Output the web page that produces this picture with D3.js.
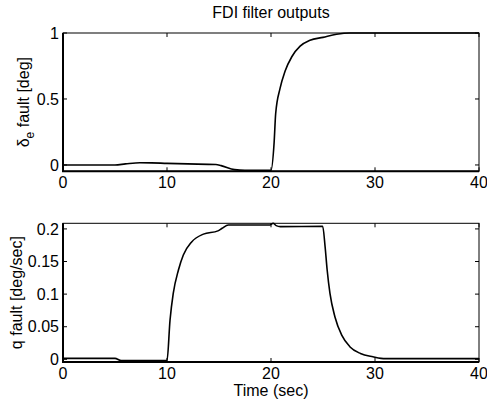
<!DOCTYPE html>
<html>
<head>
<meta charset="utf-8">
<script src="https://cdn.jsdelivr.net/npm/d3@7"></script>
<style>
  body { margin: 0; background: #fff; }
  text { font-family: "Liberation Sans", Arial, sans-serif; fill: #000; }
</style>
</head>
<body>
<svg id="chart"></svg>
<script>
// time samples and values
var elevTime = [0, 5, 6, 7.4, 8.5, 10, 12, 14.7, 15.2, 16.5, 17.5, 19.9, 20.0, 20.3, 20.45, 20.87, 21.35, 22.0, 22.8, 23.75, 25.0, 26.3, 27.6, 40];
var elevFault = [0, 0, 0.008, 0.017, 0.016, 0.012, 0.008, 0.003, -0.005, -0.035, -0.04, -0.04, -0.04, 0.17, 0.39, 0.58, 0.71, 0.82, 0.9, 0.945, 0.967, 0.99, 1.0, 1.0];

var qTime = [0, 5, 5.6, 10, 10.29, 10.6, 11.1, 11.57, 12.37, 13.5, 14.9, 15.3, 15.9, 19.9, 20.2, 20.5, 20.9, 24.97, 25.2, 25.4, 25.67, 26.15, 26.8, 27.6, 28.6, 29.8, 31, 40];
var qFault = [0.0015, 0.0015, -0.002, -0.002, 0.06, 0.101, 0.137, 0.16, 0.18, 0.192, 0.197, 0.201, 0.206, 0.206, 0.2086, 0.205, 0.2035, 0.204, 0.173, 0.137, 0.101, 0.065, 0.037, 0.019, 0.009, 0.004, 0.001, 0.001];

var xTicks = [0, 10, 20, 30, 40];
var elevTicks = [0, 0.5, 1];
var qTicks = [0, 0.05, 0.1, 0.15, 0.2];

function init() {
    var W = 487, H = 404;
    var fs = 16;
    var svg = d3.select("#chart").attr("width", W).attr("height", H);

    //one panel: box with inward ticks on all sides
    function panel(top, bottom, xs, ys, yDomain, yTicks, label, useDelta) {
        var left = 63, right = 479;
        var x = d3.scaleLinear().domain([0, 40]).range([left, right]);
        var y = d3.scaleLinear().domain(yDomain).range([bottom, top]);
        var g = svg.append("g");

        // inward ticks
        var tl = 4;
        xTicks.forEach(function(t) {
            g.append("line").attr("x1", x(t)).attr("x2", x(t)).attr("y1", bottom).attr("y2", bottom - tl).attr("stroke", "#000");
            g.append("line").attr("x1", x(t)).attr("x2", x(t)).attr("y1", top).attr("y2", top + tl).attr("stroke", "#000");
            g.append("text").attr("x", x(t)).attr("y", bottom + 17)
                .attr("text-anchor", "middle").attr("font-size", fs).text(t);
        });
        yTicks.forEach(function(t) {
            g.append("line").attr("x1", left).attr("x2", left + tl).attr("y1", y(t)).attr("y2", y(t)).attr("stroke", "#000");
            g.append("line").attr("x1", right).attr("x2", right - tl).attr("y1", y(t)).attr("y2", y(t)).attr("stroke", "#000");
            g.append("text").attr("x", left - 4).attr("y", y(t)).attr("dy", "0.35em")
                .attr("text-anchor", "end").attr("font-size", fs).text(t);
        });

        // the series
        var pts = xs.map(function(t, i) { return [t, ys[i]]; });
        var line = d3.line()
            .x(function(d) { return x(d[0]); })
            .y(function(d) { return y(d[1]); })
            .curve(d3.curveMonotoneX);
        g.append("path").datum(pts).attr("d", line)
            .attr("fill", "none").attr("stroke", "#000").attr("stroke-width", 1.6);

        // box
        g.append("rect").attr("x", left).attr("y", top).attr("width", right - left).attr("height", bottom - top)
            .attr("fill", "none").attr("stroke", "#000").attr("stroke-width", 1);
        g.append("path").attr("d", "M" + left + "," + top + "V" + bottom + "H" + right)
            .attr("fill", "none").attr("stroke", "#000").attr("stroke-width", 2);

        // y label
        var cy = (top + bottom) / 2;
        var lab = g.append("text").attr("transform", "translate(" + (useDelta ? 29 : 22) + "," + cy + ") rotate(-90)")
            .attr("text-anchor", "middle").attr("font-size", fs);
        if (useDelta) {
            lab.append("tspan").text("δ");
            lab.append("tspan").attr("font-size", 12).attr("dy", 5).text("e");
            lab.append("tspan").attr("dy", -5).text(" fault [deg]");
        } else {
            lab.text(label);
        }
        return x;
    }

    panel(33, 171.3, elevTime, elevFault, [-0.048, 1], elevTicks, "", true);
    panel(223.3, 362, qTime, qFault, [-0.0041, 0.2086], qTicks, "q fault [deg/sec]", false);

    svg.append("text").attr("x", 271).attr("y", 18).attr("text-anchor", "middle")
        .attr("font-size", fs).text("FDI filter outputs");
    svg.append("text").attr("x", 271).attr("y", 396).attr("text-anchor", "middle")
        .attr("font-size", fs).text("Time (sec)");
}
window.onload = init;
</script>
</body>
</html>
